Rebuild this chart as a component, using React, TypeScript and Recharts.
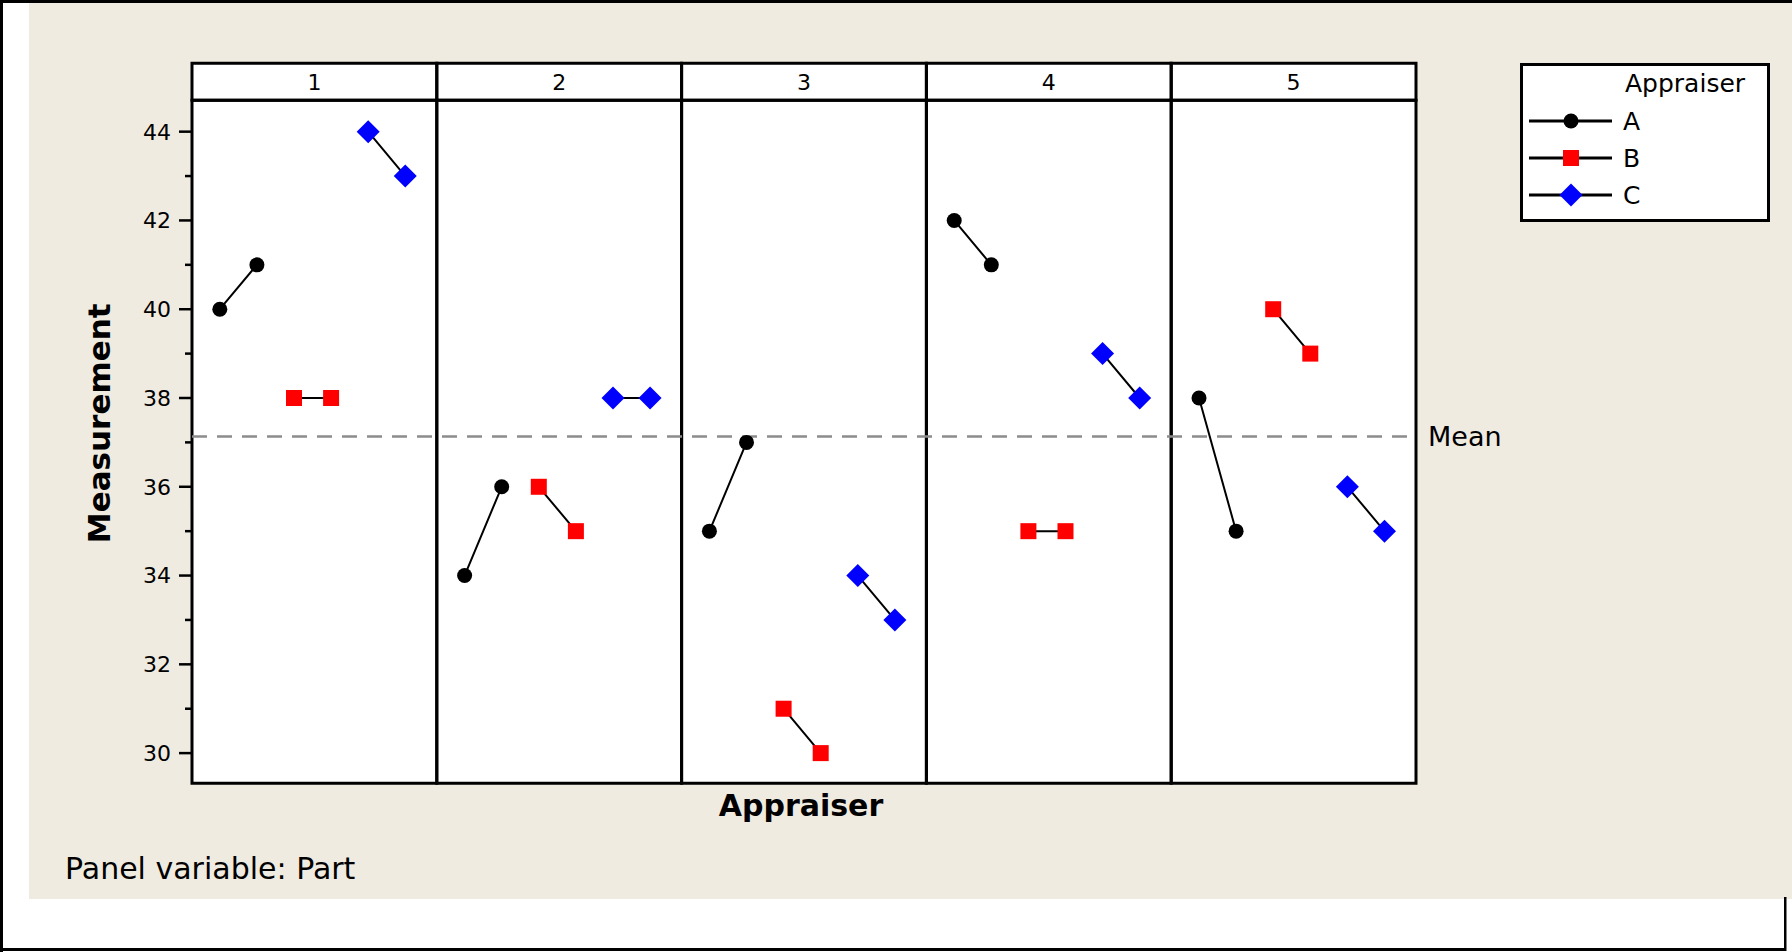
import {
  ComposedChart,
  Line,
  XAxis,
  YAxis,
  CartesianGrid,
  ReferenceArea,
  ReferenceLine,
  Legend,
} from 'recharts';

// Panels (Part) and series (Appraiser)
const PARTS = ['1', '2', '3', '4', '5'];
const APPRAISERS = ['A', 'B', 'C'];
const TRIALS = [1, 2];

// Measurements, two trials per part, parts 1..5 in order
const measA = [40, 41, 34, 36, 35, 37, 42, 41, 38, 35];
const measB = [38, 38, 36, 35, 31, 30, 35, 35, 40, 39];
const measC = [44, 43, 38, 38, 34, 33, 39, 38, 36, 35];

const Y_TICKS = [30, 31, 32, 33, 34, 35, 36, 37, 38, 39, 40, 41, 42, 43, 44];

// panel layout in x units
const PANEL_W = 6.6;
const PAD = 0.75;
const X_MAX = PARTS.length * PANEL_W;
const Y_MIN = 29.32;
const Y_MAX = 45.54;
const STRIP_Y = 44.71;

const measurements: Record<string, number[]> = { A: measA, B: measB, C: measC };

const rows = PARTS.flatMap((part, p) =>
  APPRAISERS.flatMap((app, a) =>
    TRIALS.map((trial, t) => ({
      x: p * PANEL_W + PAD + a * 2 + t,
      part,
      trial,
      [app]: measurements[app][p * 2 + t],
    }))
  )
);

const allValues = [...measA, ...measB, ...measC];
const mean = allValues.reduce((s, v) => s + v, 0) / allValues.length;

const MARKS: Record<string, { shape: string; color: string }> = {
  A: { shape: 'circle', color: '#000000' },
  B: { shape: 'square', color: '#FF0000' },
  C: { shape: 'diamond', color: '#0000FF' },
};

const BEIGE = '#EFEBE1';

function Marker({ cx, cy, kind }: { cx: number; cy: number; kind: string }) {
  const { shape, color } = MARKS[kind];
  if (shape === 'circle') return <circle cx={cx} cy={cy} r={7.5} fill={color} />;
  if (shape === 'square') return <rect x={cx - 8} y={cy - 8} width={16} height={16} fill={color} />;
  const d = 11.5;
  return (
    <polygon
      points={`${cx},${cy - d} ${cx + d},${cy} ${cx},${cy + d} ${cx - d},${cy}`}
      fill={color}
    />
  );
}

const makeDot = (kind: string) => (props: any) => {
  const { cx, cy, index } = props;
  if (cx == null || cy == null || Number.isNaN(cy)) return <g key={`dot-${kind}-${index}`} />;
  return (
    <g key={`dot-${kind}-${index}`}>
      <Marker cx={cx} cy={cy} kind={kind} />
    </g>
  );
};

const YTick = (props: any) => {
  const { x, y, payload } = props;
  const major = payload.value % 2 === 0;
  return (
    <g>
      <line x1={x - (major ? 13 : 7)} x2={x} y1={y} y2={y} stroke="#000" strokeWidth={2.5} />
      {major && (
        <text x={x - 21} y={y} dy="0.36em" textAnchor="end" fontSize={22} fill="#000">
          {payload.value}
        </text>
      )}
    </g>
  );
};

const YTitle = (props: any) => {
  const { x, y, height } = props.viewBox;
  const cx = x + 18;
  const cy = y + height / 2;
  return (
    <text
      x={cx}
      y={cy}
      transform={`rotate(-90, ${cx}, ${cy})`}
      textAnchor="middle"
      fontSize={31}
      fontWeight="bold"
      fill="#000"
    >
      Measurement
    </text>
  );
};

const XTitle = (props: any) => {
  const { x, y, width } = props.viewBox;
  return (
    <text x={x + width / 2 - 3} y={y + 33} textAnchor="middle" fontSize={30} fontWeight="bold" fill="#000">
      Appraiser
    </text>
  );
};

const LegendBox = () => (
  <svg width={250} height={159} style={{ display: 'block' }}>
    <rect x={1.5} y={1.5} width={247} height={156} fill="#fff" stroke="#000" strokeWidth={3} />
    <text x={105} y={29} fontSize={25} fill="#000">
      Appraiser
    </text>
    {APPRAISERS.map((app, i) => {
      const cy = 58 + i * 37;
      return (
        <g key={app}>
          <line x1={9} x2={92} y1={cy} y2={cy} stroke="#000" strokeWidth={3} />
          <Marker cx={51} cy={cy} kind={app} />
          <text x={103} y={cy + 9} fontSize={25} fill="#000">
            {app}
          </text>
        </g>
      );
    })}
  </svg>
);

export default function App() {
  return (
    <div
      style={{
        position: 'absolute',
        left: 0,
        top: 0,
        width: 1792,
        height: 952,
        fontFamily: '"DejaVu Sans", sans-serif',
        overflow: 'hidden',
      }}
    >
      <svg width={1792} height={952} style={{ position: 'absolute', left: 0, top: 0 }}>
        <rect x={0} y={0} width={1792} height={952} fill="#fff" />
        <rect x={29} y={3} width={1763} height={896} fill={BEIGE} />
        <rect x={0} y={0} width={1792} height={3} fill="#000" />
        <rect x={0} y={0} width={3} height={952} fill="#000" />
        <rect x={0} y={948} width={1786} height={3} fill="#000" />
        <rect x={1784} y={897} width={2.5} height={54} fill="#000" />
        <text x={65} y={879} fontSize={30} fill="#000">
          Panel variable: Part
        </text>
      </svg>
      <div style={{ position: 'absolute', left: 0, top: 0 }}>
        <ComposedChart
          width={1792}
          height={952}
          data={rows}
          margin={{ top: 63.3, right: 376, bottom: 108.7, left: 92 }}
        >
          <CartesianGrid horizontal={false} vertical={false} fill="#fff" />
          <XAxis
            dataKey="x"
            type="number"
            domain={[0, X_MAX]}
            tick={false}
            tickLine={false}
            axisLine={false}
            height={60}
            label={<XTitle />}
          />
          <YAxis
            type="number"
            domain={[Y_MIN, Y_MAX]}
            ticks={Y_TICKS}
            interval={0}
            allowDataOverflow
            width={100}
            axisLine={false}
            tickLine={false}
            tickSize={0}
            tickMargin={0}
            tick={<YTick />}
            label={<YTitle />}
          />
          {PARTS.map((part, p) => (
            <ReferenceArea
              key={`panel-${part}`}
              x1={p * PANEL_W}
              x2={(p + 1) * PANEL_W}
              y1={Y_MIN}
              y2={STRIP_Y}
              fill="none"
              stroke="#000"
              strokeWidth={3}
              ifOverflow="visible"
            />
          ))}
          {PARTS.map((part, p) => (
            <ReferenceArea
              key={`strip-${part}`}
              x1={p * PANEL_W}
              x2={(p + 1) * PANEL_W}
              y1={STRIP_Y}
              y2={Y_MAX}
              fill="none"
              stroke="#000"
              strokeWidth={3}
              ifOverflow="visible"
              label={{ value: part, position: 'center', fontSize: 22, fill: '#000' }}
            />
          ))}
          <ReferenceLine
            y={mean}
            stroke="#8C8C8C"
            strokeWidth={2.5}
            strokeDasharray="15 10"
            label={{ value: 'Mean', position: 'right', offset: 12, fontSize: 27, fill: '#000' }}
          />
          {APPRAISERS.map((app) => (
            <Line
              key={app}
              dataKey={app}
              stroke="#000"
              strokeWidth={2}
              connectNulls={false}
              dot={makeDot(app)}
              activeDot={false}
              isAnimationActive={false}
            />
          ))}
          <Legend
            layout="vertical"
            align="center"
            verticalAlign="middle"
            wrapperStyle={{ left: 1520, top: 63, width: 250, height: 159 }}
            content={() => <LegendBox />}
          />
        </ComposedChart>
      </div>
    </div>
  );
}
